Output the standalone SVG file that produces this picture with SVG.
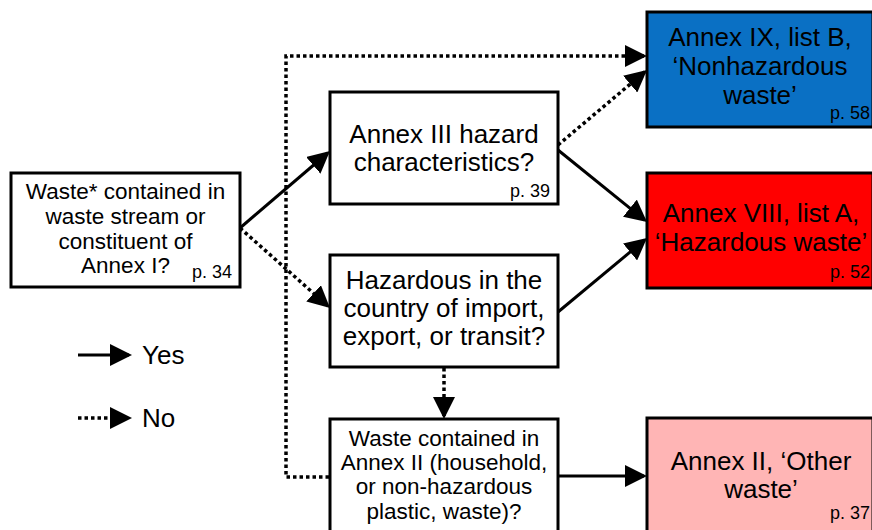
<svg xmlns="http://www.w3.org/2000/svg" width="872" height="530" viewBox="0 0 872 530">
<style>
.box{stroke:#000;stroke-width:3;fill:#fff}
.t{font-family:"Liberation Sans",Arial,sans-serif;fill:#000;text-anchor:middle}
.big{font-size:26px}
.sm{font-size:22.5px}
.pg{font-family:"Liberation Sans",Arial,sans-serif;font-size:18px;text-anchor:end;fill:#000}
.yes{stroke:#000;stroke-width:3;fill:none;marker-end:url(#ah)}
.no{stroke:#000;stroke-width:3.5;fill:none;stroke-dasharray:3.5 3;marker-end:url(#ah)}
</style>
<defs>
<marker id="ah" markerUnits="userSpaceOnUse" markerWidth="22" markerHeight="22" refX="19" refY="11" orient="auto">
<path d="M0,0 L22,11 L0,22 Z" fill="#000"/>
</marker>
</defs>
<rect width="872" height="530" fill="#fff"/>
<g id="connectors">
<line class="yes" x1="240" y1="228" x2="327.7" y2="153"/>
<line class="no" x1="240" y1="228" x2="327.8" y2="306"/>
<line class="no" x1="558" y1="145" x2="644.7" y2="71.9"/>
<line class="yes" x1="558" y1="150" x2="644.7" y2="220.1"/>
<line class="yes" x1="558" y1="312" x2="644.7" y2="239.9"/>
<line class="no" x1="444" y1="368" x2="444" y2="416"/>
<polyline class="no" points="329,477 286,477 286,56 644,56"/>
<line class="yes" x1="558" y1="476" x2="644" y2="476"/>
</g>
<g id="start">
<rect class="box" x="11" y="173" width="229" height="114"/>
<text class="t sm" x="125.5" y="199">Waste* contained in</text>
<text class="t sm" x="125.5" y="224">waste stream or</text>
<text class="t sm" x="125.5" y="249">constituent of</text>
<text class="t sm" x="125.5" y="273">Annex I?</text>
<text class="pg" x="232" y="278">p. 34</text>
</g>
<g id="annex3">
<rect class="box" x="330" y="92" width="228" height="112"/>
<text class="t big" x="444" y="143">Annex III hazard</text>
<text class="t big" x="444" y="171">characteristics?</text>
<text class="pg" x="550" y="197">p. 39</text>
</g>
<g id="hazardous">
<rect class="box" x="330" y="255" width="228" height="112"/>
<text class="t big" x="444" y="289">Hazardous in the</text>
<text class="t big" x="444" y="317">country of import,</text>
<text class="t big" x="444" y="345">export, or transit?</text>
</g>
<g id="annex2q">
<rect class="box" x="330" y="419" width="228" height="130"/>
<text class="t sm" x="444" y="446">Waste contained in</text>
<text class="t sm" x="444" y="470">Annex II (household,</text>
<text class="t sm" x="444" y="494">or non-hazardous</text>
<text class="t sm" x="444" y="519">plastic, waste)?</text>
</g>
<g id="annex9">
<rect class="box" x="647" y="12" width="226" height="115" style="fill:#0a70c4"/>
<text class="t big" x="760" y="46">Annex IX, list B,</text>
<text class="t big" x="760" y="75">‘Nonhazardous</text>
<text class="t big" x="760" y="104">waste’</text>
<text class="pg" x="870" y="119">p. 58</text>
</g>
<g id="annex8">
<rect class="box" x="647" y="173" width="226" height="115" style="fill:#ff0000"/>
<text class="t big" x="761" y="222">Annex VIII, list A,</text>
<text class="t big" x="761" y="251">‘Hazardous waste’</text>
<text class="pg" x="870" y="278">p. 52</text>
</g>
<g id="annex2">
<rect class="box" x="647" y="418" width="226" height="130" style="fill:#ffb5b5"/>
<text class="t big" x="761" y="470">Annex II, ‘Other</text>
<text class="t big" x="761" y="498">waste’</text>
<text class="pg" x="870" y="519">p. 37</text>
</g>
<g id="legend">
<line class="yes" x1="78" y1="355" x2="129" y2="355"/>
<text x="142" y="364" font-family="Liberation Sans, Arial, sans-serif" font-size="26">Yes</text>
<line class="no" x1="78" y1="418" x2="129" y2="418"/>
<text x="142" y="427" font-family="Liberation Sans, Arial, sans-serif" font-size="26">No</text>
</g>
</svg>
